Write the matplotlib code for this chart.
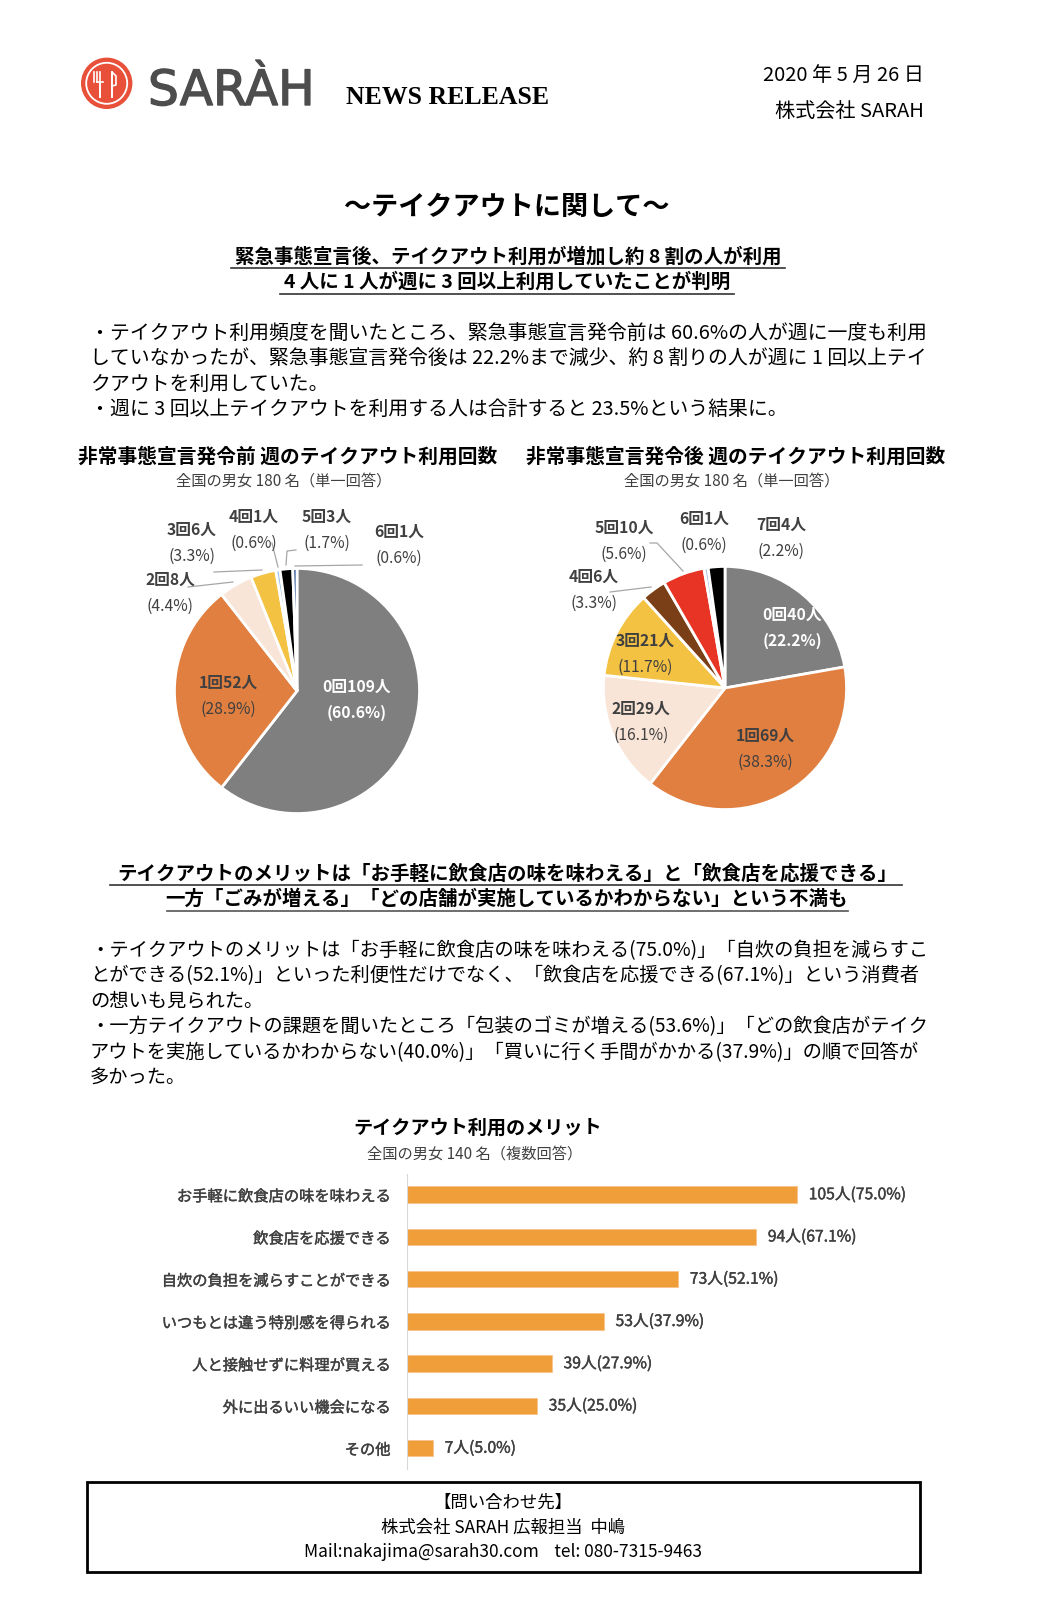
import matplotlib
matplotlib.use("Agg")
import matplotlib.pyplot as plt
import matplotlib.patheffects as pe
from matplotlib.patches import Circle, Rectangle

plt.rcParams['font.family'] = ['Noto Sans CJK JP', 'DejaVu Sans']

# --- data ---
before_labels = ["0回", "1回", "2回", "3回", "4回", "5回", "6回"]
before_counts = [109, 52, 8, 6, 1, 3, 1]
before_pcts = [60.6, 28.9, 4.4, 3.3, 0.6, 1.7, 0.6]
before_colors = ["#7f7f7f", "#e07f40", "#f8e5d8", "#f4c242", "#9dc3e6", "#000000", "#2f5597"]

after_labels = ["0回", "1回", "2回", "3回", "4回", "5回", "6回", "7回"]
after_counts = [40, 69, 29, 21, 6, 10, 1, 4]
after_pcts = [22.2, 38.3, 16.1, 11.7, 3.3, 5.6, 0.6, 2.2]
after_colors = ["#7f7f7f", "#e07f40", "#f8e5d8", "#f4c242", "#7b3f17", "#e83424", "#b4c7e7", "#000000"]

merit_labels = ["お手軽に飲食店の味を味わえる", "飲食店を応援できる", "自炊の負担を減らすことができる",
                "いつもとは違う特別感を得られる", "人と接触せずに料理が買える", "外に出るいい機会になる", "その他"]
merit_counts = [105, 94, 73, 53, 39, 35, 7]
merit_pcts = [75.0, 67.1, 52.1, 37.9, 27.9, 25.0, 5.0]

body1 = ["・テイクアウト利用頻度を聞いたところ、緊急事態宣言発令前は 60.6%の人が週に一度も利用",
         "していなかったが、緊急事態宣言発令後は 22.2%まで減少、約 8 割りの人が週に 1 回以上テイ",
         "クアウトを利用していた。",
         "・週に 3 回以上テイクアウトを利用する人は合計すると 23.5%という結果に。"]
body2 = ["・テイクアウトのメリットは「お手軽に飲食店の味を味わえる(75.0%)」「自炊の負担を減らすこ",
         "とができる(52.1%)」といった利便性だけでなく、「飲食店を応援できる(67.1%)」という消費者",
         "の想いも見られた。",
         "・一方テイクアウトの課題を聞いたところ「包装のゴミが増える(53.6%)」「どの飲食店がテイク",
         "アウトを実施しているかわからない(40.0%)」「買いに行く手間がかかる(37.9%)」の順で回答が",
         "多かった。"]

W, H = 1041, 1600
fig = plt.figure(figsize=(W / 100, H / 100), dpi=100)
fig.patch.set_facecolor("white")

semi = [pe.withStroke(linewidth=0.3, foreground="#404040")]


def px_axes(left, top, width, height, **kw):
    return fig.add_axes([left / W, 1 - (top + height) / H, width / W, height / H], **kw)


# --- pies ---
def draw_pie(cx, cy, r, counts, colors):
    ax = px_axes(cx - r, cy - r, 2 * r, 2 * r)
    ax.pie(counts, colors=colors, startangle=90, counterclock=False, radius=1,
           wedgeprops=dict(edgecolor="white", linewidth=2))
    ax.set_xlim(-1.02, 1.02)
    ax.set_ylim(-1.02, 1.02)
    ax.axis("off")
    return ax


draw_pie(297, 691, 125, before_counts, before_colors)
draw_pie(725, 688, 124, after_counts, after_colors)

# --- bar chart ---
bx = px_axes(406.8, 1173.6, 520, 295.75)
ypos = range(len(merit_labels))
bx.barh(ypos, merit_counts, height=0.39, color="#f09e3a", edgecolor="#f6c38a", linewidth=0.6)
bx.set_xlim(0, 140)
bx.set_ylim(len(merit_labels) - 0.5, -0.5)
bx.set_yticks(list(ypos))
bx.set_yticklabels(merit_labels, fontsize=11, color="#404040")
for t in bx.get_yticklabels():
    t.set_path_effects(semi)
bx.tick_params(axis="y", length=0, pad=11.8)
bx.set_xticks([])
for s in ["top", "right", "bottom"]:
    bx.spines[s].set_visible(False)
bx.spines["left"].set_color("#d9d9d9")
for i, (c, p) in enumerate(zip(merit_counts, merit_pcts)):
    bx.text(c + 3.2, i, f"{c}人({p:.1f}%)", va="center", ha="left", fontsize=11.3,
            color="#404040", path_effects=semi)

# --- overlay page ---
ax = fig.add_axes([0, 0, 1, 1], zorder=10)
ax.set_xlim(0, W)
ax.set_ylim(H, 0)
ax.axis("off")
ax.patch.set_alpha(0)


def T(x, y, s, size=12, ha="left", weight="normal", color="black", **kw):
    ax.text(x, y, s, fontsize=size, ha=ha, va="center", fontweight=weight, color=color, **kw)


# logo
ax.add_patch(Circle((106.7, 83.3), 25, color="#e9503a"))
ax.add_patch(Circle((106.7, 83.3), 20.5, fill=False, edgecolor="white", linewidth=1.3))
for dx in (-8.5, -5.5, -2.5):
    ax.plot([96.7 + dx + 5.5, 96.7 + dx + 5.5], [72, 82], color="white", lw=1.2)
ax.plot([97.2, 103.2], [82, 82], color="white", lw=1.2)
ax.plot([100.2, 100.2], [82, 97], color="white", lw=1.4)
ax.plot([112, 112], [72, 97], color="white", lw=1.4)
ax.plot([112, 116, 116, 112], [72, 76, 85, 86], color="white", lw=1.2)
T(148, 91, "SARÀH", size=35, color="#4d4d4d", family="DejaVu Sans",
  path_effects=[pe.withStroke(linewidth=1.0, foreground="#4d4d4d")])
T(346, 97.5, "NEWS RELEASE", size=18.5, family="Liberation Serif", weight="bold")
T(924, 76.7, "2020 年 5 月 26 日", size=14.5, ha="right")
T(924, 111, "株式会社 SARAH", size=14.5, ha="right")

# title and headers
T(507, 207, "〜テイクアウトに関して〜", size=19.5, ha="center", weight="bold")
T(508, 256.5, "緊急事態宣言後、テイクアウト利用が増加し約 8 割の人が利用", size=14, ha="center", weight="bold")
T(507, 282, "4 人に 1 人が週に 3 回以上利用していたことが判明", size=14, ha="center", weight="bold")
ax.plot([231, 785], [268, 268], color="#333333", lw=1.2)
ax.plot([280, 734], [294, 294], color="#333333", lw=1.2)

for i, line in enumerate(body1):
    T(90, 333 + i * 25.6, line, size=14.3)

# pie titles
T(288, 457, "非常事態宣言発令前 週のテイクアウト利用回数", size=14.2, ha="center", weight="bold")
T(736, 457, "非常事態宣言発令後 週のテイクアウト利用回数", size=14.2, ha="center", weight="bold")
T(284, 481, "全国の男女 180 名（単一回答）", size=11, ha="center", color="#404040")
T(732, 481, "全国の男女 180 名（単一回答）", size=11, ha="center", color="#404040")

# pie labels
before_pos = [(357, 687, "white"), (228, 683, "#404040"), (170, 580, "#404040"), (192, 530, "#404040"),
              (254, 517, "#404040"), (327, 517, "#404040"), (399, 532, "#404040")]
for lab, c, p, (x, y, col) in zip(before_labels, before_counts, before_pcts, before_pos):
    T(x, y, f"{lab}{c}人", size=11.3, ha="center", weight="bold", color=col)
    T(x, y + 26, f"({p:.1f}%)", size=11.3, ha="center", color=col,
      weight="bold" if col == "white" else "normal")

after_pos = [(792, 615, "white"), (765, 736, "#404040"), (641, 709, "#404040"), (645, 641, "#404040"),
             (594, 577, "#404040"), (624, 528, "#404040"), (704, 519, "#404040"), (781, 525, "#404040")]
for lab, c, p, (x, y, col) in zip(after_labels, after_counts, after_pcts, after_pos):
    T(x, y, f"{lab}{c}人", size=11.3, ha="center", weight="bold", color=col)
    T(x, y + 26, f"({p:.1f}%)", size=11.3, ha="center", color=col,
      weight="bold" if col == "white" else "normal")

lc = "#a6a6a6"
ax.plot([188, 233], [587, 582], color=lc, lw=0.9)
ax.plot([214, 262], [572, 570], color=lc, lw=0.9)
ax.plot([272, 278], [543, 567], color=lc, lw=0.9)
ax.plot([296, 287, 286], [550, 551, 565], color=lc, lw=0.9)
ax.plot([362, 295], [565, 566], color=lc, lw=0.9)
ax.plot([610, 651], [592, 587], color=lc, lw=0.9)
ax.plot([650, 657, 683], [543, 543, 571], color=lc, lw=0.9)

# second section
T(507, 874, "テイクアウトのメリットは「お手軽に飲食店の味を味わえる」と「飲食店を応援できる」", size=14, ha="center", weight="bold")
T(507, 899.5, "一方「ごみが増える」「どの店舗が実施しているかわからない」という不満も", size=14, ha="center", weight="bold")
ax.plot([110, 902], [885, 885], color="#333333", lw=1.2)
ax.plot([167, 848], [911, 911], color="#555555", lw=1.2)

for i, line in enumerate(body2):
    T(90, 950.5 + i * 25.5, line, size=13.85)

# bar chart titles
T(478, 1128, "テイクアウト利用のメリット", size=13.8, ha="center", weight="bold")
T(475, 1154, "全国の男女 140 名（複数回答）", size=11, ha="center", color="#404040")

# contact box
ax.add_patch(Rectangle((87, 1482), 833, 90, fill=False, edgecolor="black", linewidth=2))
T(503, 1503, "【問い合わせ先】", size=12.5, ha="center")
T(503, 1528, "株式会社 SARAH 広報担当  中嶋", size=12.5, ha="center")
T(503, 1552, "Mail:nakajima@sarah30.com    tel: 080-7315-9463", size=12.5, ha="center")

fig.savefig("out.png", dpi=100)
